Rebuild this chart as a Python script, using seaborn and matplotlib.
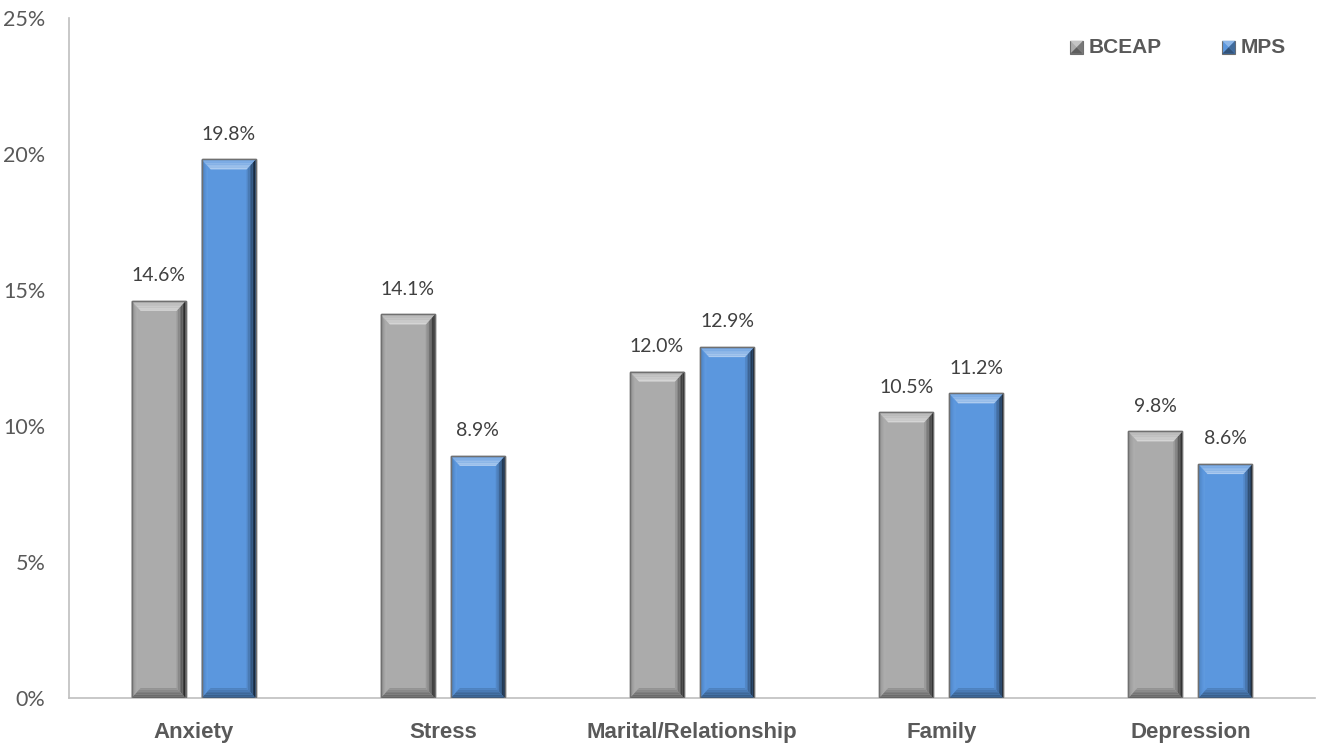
import matplotlib
matplotlib.use("Agg")
import matplotlib.pyplot as plt
import matplotlib.colors as mcolors
from matplotlib.patches import Polygon
import numpy as np
import pandas as pd
import seaborn as sns

categories = ["Anxiety", "Stress", "Marital/Relationship", "Family", "Depression"]
bceap = [14.6, 14.1, 12.0, 10.5, 9.8]
mps = [19.8, 8.9, 12.9, 11.2, 8.6]
series_names = ["BCEAP", "MPS"]
y_ticks = [0, 5, 10, 15, 20, 25]

colors = {"BCEAP": "#ABABAB", "MPS": "#5B97DE"}

df = pd.DataFrame({
    "category": categories * 2,
    "value": bceap + mps,
    "series": [series_names[0]] * len(categories) + [series_names[1]] * len(categories),
})

sns.set_style("white")
plt.rcParams["font.family"] = ["Lato", "DejaVu Sans"]
BOLD_FONT = ["Liberation Sans", "DejaVu Sans"]

W, H = 1325, 747
fig = plt.figure(figsize=(W / 100, H / 100), dpi=100)
ax = fig.add_axes([69 / W, (H - 698) / H, (1315 - 69) / W, (698 - 18) / H])

sns.barplot(data=df, x="category", y="value", hue="series", palette=colors,
            width=0.562, gap=0.23, ax=ax, legend=False, saturation=1,
            edgecolor="#6E6E6E", linewidth=1.0)

ax.set_ylim(0, 25)
ax.set_xlim(-0.5, len(categories) - 0.5)
ax.set_yticks(y_ticks)
ax.set_yticklabels([f"{t}%" for t in y_ticks], fontsize=15.5, color="#595959")
ax.tick_params(axis="y", length=0, pad=17)
ax.tick_params(axis="x", length=0, pad=17)
ax.set_xticks(range(len(categories)))
ax.set_xticklabels(categories, fontsize=16, fontweight="bold", color="#595959",
                   family=BOLD_FONT)
ax.set_xlabel("")
ax.set_ylabel("")
for side in ["top", "right"]:
    ax.spines[side].set_visible(False)
for side in ["left", "bottom"]:
    ax.spines[side].set_color("#BFBFBF")
    ax.spines[side].set_linewidth(1.2)

fig.canvas.draw()
# pixel -> data scale for the bevel depth
ax_h_px = ax.get_window_extent().height
ax_w_px = ax.get_window_extent().width
y_per_px = 25 / ax_h_px
x_per_px = len(categories) / ax_w_px


def shade(c, f):
    rgb = np.array(mcolors.to_rgb(c))
    if f >= 0:
        rgb = rgb + (1 - rgb) * f
    else:
        rgb = rgb * (1 + f)
    return tuple(np.clip(rgb, 0, 1))


def bevel(ax, x0, y0, w, h, color, dx_px=9, dy_px=10, steps=6):
    dx = dx_px * x_per_px
    dy = min(dy_px * y_per_px, h / 2)
    x1, y1 = x0 + w, y0 + h
    # right side: gradient towards a dark edge
    for i in range(steps):
        a = x1 - dx * i / steps
        b = x1 - dx * (i + 1) / steps
        ya0 = y0 + dy * i / steps
        yb0 = y0 + dy * (i + 1) / steps
        ya1 = y1 - dy * i / steps
        yb1 = y1 - dy * (i + 1) / steps
        f = -0.75 * (1 - i / steps) ** 1.3 - 0.03
        ax.add_patch(Polygon([(a, ya0), (b, yb0), (b, yb1), (a, ya1)], closed=True,
                             facecolor=shade(color, f), edgecolor="none", zorder=3))
    # left side: darker rim fading into a slight highlight
    for i in range(steps):
        a = x0 + dx * 0.7 * i / steps
        b = x0 + dx * 0.7 * (i + 1) / steps
        f = -0.25 * (1 - i / steps) + 0.08
        ax.add_patch(Polygon([(a, y0 + dy * i / steps), (b, y0 + dy * (i + 1) / steps),
                              (b, y1 - dy * (i + 1) / steps), (a, y1 - dy * i / steps)],
                             closed=True, facecolor=shade(color, f), edgecolor="none", zorder=3))
    # top bevel: light highlight
    for i in range(steps):
        ya = y1 - dy * i / steps
        yb = y1 - dy * (i + 1) / steps
        xa0 = x0 + dx * i / steps
        xb0 = x0 + dx * (i + 1) / steps
        xa1 = x1 - dx * i / steps
        xb1 = x1 - dx * (i + 1) / steps
        f = 0.1 + 0.4 * (i + 1) / steps
        ax.add_patch(Polygon([(xa0, ya), (xa1, ya), (xb1, yb), (xb0, yb)], closed=True,
                             facecolor=shade(color, f), edgecolor="none", zorder=3.5))
    # bottom bevel: shadow
    for i in range(steps):
        ya = y0 + dy * i / steps
        yb = y0 + dy * (i + 1) / steps
        xa0 = x0 + dx * i / steps
        xb0 = x0 + dx * (i + 1) / steps
        xa1 = x1 - dx * i / steps
        xb1 = x1 - dx * (i + 1) / steps
        f = -0.35 * (1 - i / steps) - 0.08
        ax.add_patch(Polygon([(xa0, ya), (xa1, ya), (xb1, yb), (xb0, yb)], closed=True,
                             facecolor=shade(color, f), edgecolor="none", zorder=3.5))
    ax.add_patch(plt.Rectangle((x0, y0), w, h, fill=False, edgecolor="#707070",
                               linewidth=1.0, zorder=4))


for container, name in zip(ax.containers, series_names):
    for bar in container:
        bevel(ax, bar.get_x(), bar.get_y(), bar.get_width(), bar.get_height(), colors[name])
    ax.bar_label(container, labels=[f"{v:.1f}%" for v in container.datavalues],
                 padding=12, fontsize=14, color="#404040")

# legend with bevelled square swatches
legend_x = [0.8035, 0.9255]
tr = ax.transAxes
for xpos, name in zip(legend_x, series_names):
    sx, sy = xpos, 0.957
    sw_w = 0.0105
    sw_h = sw_w * ax_w_px / ax_h_px
    c = colors[name]
    ax.add_patch(plt.Rectangle((sx, sy - sw_h / 2), sw_w, sw_h, transform=tr,
                               facecolor=c, edgecolor="#6E6E6E", linewidth=0.8,
                               clip_on=False, zorder=5))
    cx, cy = sx + sw_w / 2, sy
    for pts, f in [
        ([(sx, sy + sw_h / 2), (sx + sw_w, sy + sw_h / 2), (cx, cy)], 0.3),
        ([(sx, sy - sw_h / 2), (sx + sw_w, sy - sw_h / 2), (cx, cy)], -0.45),
        ([(sx + sw_w, sy - sw_h / 2), (sx + sw_w, sy + sw_h / 2), (cx, cy)], -0.3),
    ]:
        ax.add_patch(Polygon(pts, closed=True, transform=tr, facecolor=shade(c, f),
                             edgecolor="none", clip_on=False, zorder=6))
    ax.text(sx + sw_w + 0.004, sy, name, transform=tr, fontsize=15,
            fontweight="bold", color="#595959", va="center", ha="left",
            family=BOLD_FONT)

fig.savefig("out.png", dpi=100, facecolor="white")
